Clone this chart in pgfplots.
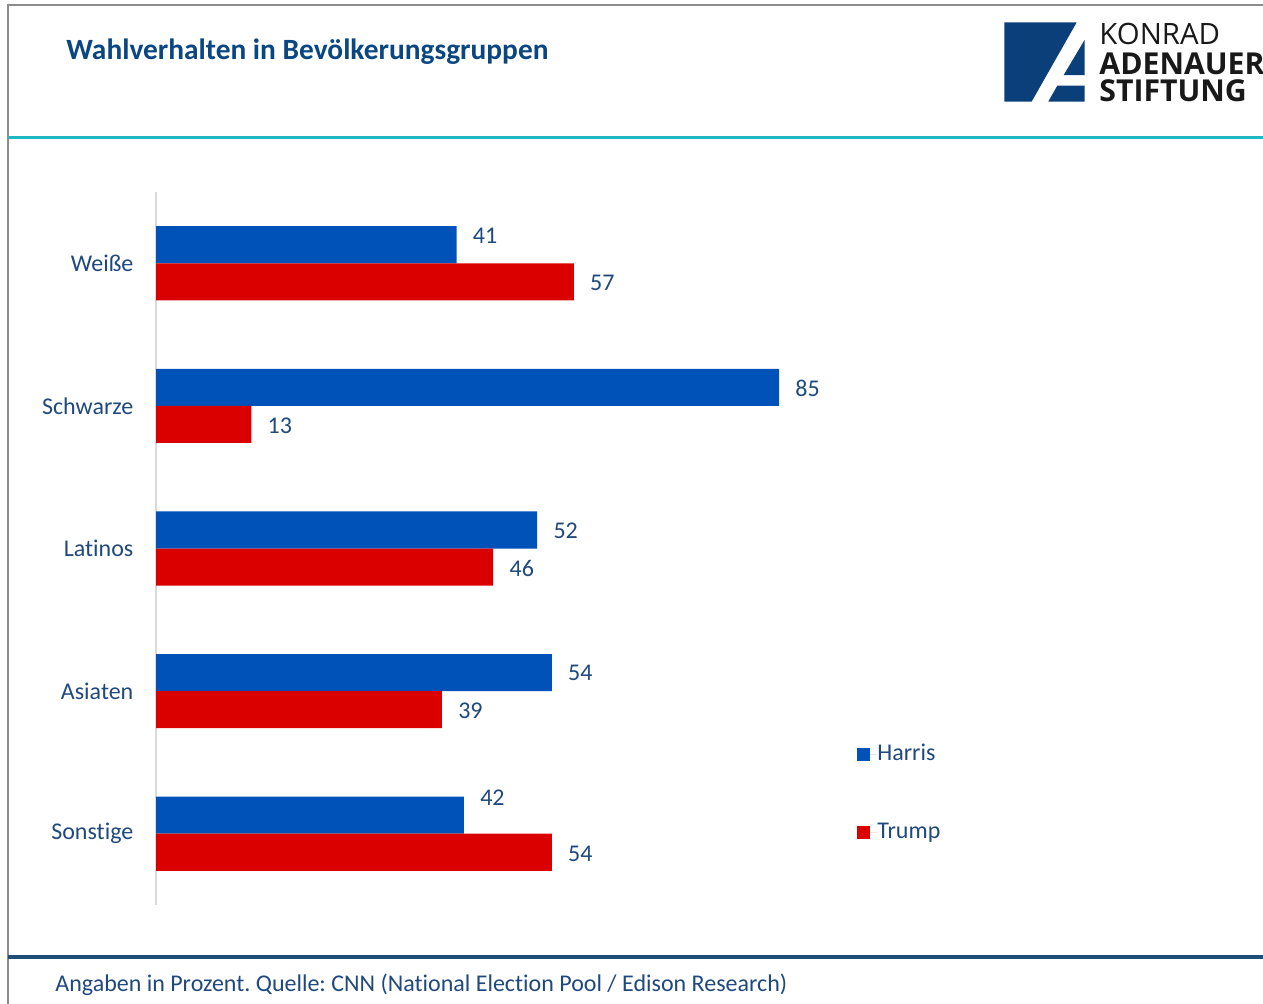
\documentclass[border=0pt]{standalone}
\usepackage{pgfplots}
\pgfplotsset{compat=1.18}
\usepackage{pgfplotstable}
\usepackage{fontspec}
\setmainfont{Carlito}[Ligatures=NoCommon]
\newfontfamily\logofont{Open Sans}
\definecolor{harris}{HTML}{0052B9}
\definecolor{trump}{HTML}{DA0000}
\definecolor{txt}{HTML}{1F497D}
\definecolor{ttl}{HTML}{0A4782}
\definecolor{kteal}{HTML}{1DB8C2}
\definecolor{navyline}{HTML}{1F4E79}
\definecolor{logoblue}{HTML}{0B3F7A}

% dy: vertical offset (pt) of the value label from the category centre
\pgfplotstableread{
y x dy
4 41 13.8
3 85 9.0
2 52 9.0
1 54 9.0
0 42 18.0
}\harristab
\pgfplotstableread{
y x dy
4 57 -10.0
3 13 -10.0
2 46 -10.0
1 39 -10.0
0 54 -10.0
}\trumptab

\begin{document}
\frenchspacing
\begin{tikzpicture}
\useasboundingbox (0,0) rectangle (631.5pt,-501.5pt);
\clip (0,0) rectangle (631.5pt,-501.5pt);
\begin{scope}[x=0.5pt,y=-0.5pt]
 \draw[black!45, line width=1pt] (8,1010) -- (8,5) -- (1270,5);
 \draw[kteal, line width=1.5pt] (8,137) -- (1270,137);
 \draw[navyline, line width=2pt] (8,957) -- (1270,957);
 \node[anchor=base west, inner sep=0pt, font=\fontsize{14.7}{16}\selectfont\bfseries, text=ttl] at (66,59) {Wahlverhalten in Bevölkerungsgruppen};
 \node[anchor=base west, inner sep=0pt, font=\fontsize{12}{14}\selectfont, text=txt] at (55,991) {Angaben in Prozent. Quelle: CNN (National Election Pool / Edison Research)};
 \fill[logoblue] (1004.3,22.3) -- (1076.7,22.3) -- (1031.7,101.5) -- (1004.3,101.5) -- cycle;
 \fill[logoblue] (1084.5,40) -- (1084.5,75) -- (1063.7,75) -- cycle;
 \fill[logoblue] (1057.3,85.7) -- (1084.5,85.7) -- (1084.5,101.5) -- (1048.3,101.5) -- cycle;
 \node[anchor=north west, inner sep=0pt, align=left, text=black!90, font=\logofont\fontsize{14.7}{15}\selectfont] at (1099,22.5)
   {\fontsize{14.7}{15}\selectfont KONRAD\\[0pt]
    \fontsize{15.1}{15}\selectfont\bfseries ADENAUER\\[-1.5pt]
    \fontsize{15.1}{15}\selectfont\bfseries STIFTUNG};
\end{scope}
\begin{axis}[
  at={(78pt,-452.5pt)}, anchor=south west,
  width=366.5pt, height=356.5pt, scale only axis,
  xmin=0, xmax=100, ymin=-0.5, ymax=4.5,
  xbar, bar width=0.26,
  axis x line=none, axis y line=left,
  y axis line style={-, draw=black!15, line width=1pt},
  ytick={0,1,2,3,4},
  yticklabels={Sonstige,Asiaten,Latinos,Schwarze,Weiße},
  ytick style={draw=none},
  yticklabel style={inner sep=0pt, xshift=-9pt, font=\fontsize{12}{14}\selectfont, text=txt},
  clip=false,
  nodes near coords,
  /pgf/number format/assume math mode=true,
  visualization depends on={\thisrow{dy} \as \dy},
  every node near coord/.style={anchor=west, inner sep=0pt, xshift=8pt, yshift=\dy pt, font=\fontsize{12}{14}\selectfont, text=txt},
  legend cell align=left,
  legend style={at={(rel axis cs:0.9563,0.2258)}, anchor=north west, draw=none, fill=none, inner sep=0pt, row sep=29.5pt, font=\fontsize{12}{14}\selectfont, text=txt, nodes={inner sep=0pt}},
]
\addplot[fill=harris, draw=none, bar shift=0.13, legend image code/.code={\path (0pt,0pt) rectangle (10pt,0pt); \fill[harris] (0pt,-3.25pt) rectangle (6.5pt,3.25pt);}] table[x=x,y=y] {\harristab};
\addlegendentry{Harris}
\addplot[fill=trump, draw=none, bar shift=-0.13, legend image code/.code={\path (0pt,0pt) rectangle (10pt,0pt); \fill[trump] (0pt,-3.25pt) rectangle (6.5pt,3.25pt);}] table[x=x,y=y] {\trumptab};
\addlegendentry{Trump}
\end{axis}
\end{tikzpicture}
\end{document}
